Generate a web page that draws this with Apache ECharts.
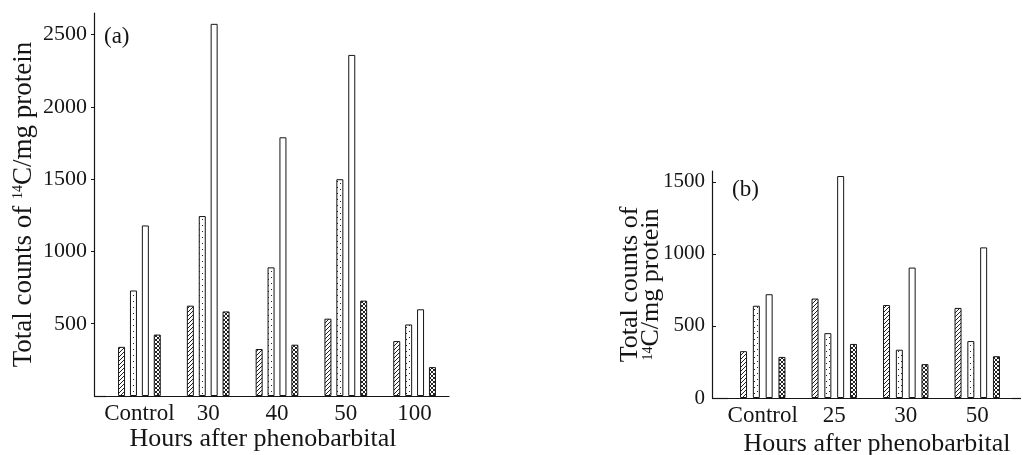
<!DOCTYPE html>
<html>
<head>
<meta charset="utf-8">
<script src="https://cdn.jsdelivr.net/npm/echarts@6/dist/echarts.min.js"></script>
<style>
  html, body { margin: 0; padding: 0; background: #fff; }
  #main { width: 1023px; height: 455px; }
</style>
</head>
<body>
<div id="main"></div>
<script>
// panel (a)
const categoriesA = ['Control', '30', '40', '50', '100']
const hatchedA = [340, 625, 325, 535, 380]
const dottedA = [730, 1245, 890, 1500, 495]
const openA = [1180, 2575, 1790, 2360, 600]
const crossA = [425, 585, 355, 660, 200]
const ticksA = [500, 1000, 1500, 2000, 2500]

// panel (b)
const categoriesB = ['Control', '25', '30', '50']
const hatchedB = [325, 690, 645, 625]
const dottedB = [640, 450, 335, 395]
const openB = [720, 1540, 905, 1045]
const crossB = [285, 375, 235, 290]
const ticksB = [0, 500, 1000, 1500]

const FONT = 'Liberation Serif'
const INK = '#151515'

// little canvas tiles for the printed fills
function pattern(kind) {
  const s = kind === 'dots' ? 6 : 4
  const c = document.createElement('canvas')
  c.width = c.height = s
  const g = c.getContext('2d')
  g.fillStyle = '#fff'
  g.fillRect(0, 0, s, s)
  g.strokeStyle = '#222'
  g.fillStyle = '#222'
  g.lineWidth = 1
  if (kind === 'hatch' || kind === 'cross') {
    g.beginPath()
    g.moveTo(0, s); g.lineTo(s, 0)
    g.moveTo(-1, 1); g.lineTo(1, -1)
    g.moveTo(s - 1, s + 1); g.lineTo(s + 1, s - 1)
    g.stroke()
  }
  if (kind === 'cross') {
    g.beginPath()
    g.moveTo(0, 0); g.lineTo(s, s)
    g.moveTo(s - 1, -1); g.lineTo(s + 1, 1)
    g.moveTo(-1, s - 1); g.lineTo(1, s + 1)
    g.stroke()
  }
  if (kind === 'dots') {
    g.fillRect(1, 1, 1, 1)
    g.fillRect(4, 3, 1, 1)
  }
  return { image: c, repeat: 'repeat' }
}

const fills = {
  hatch: pattern('hatch'),
  dots: pattern('dots'),
  open: '#fff',
  cross: pattern('cross')
}

function barSeries(idx, data, fill, gap) {
  return {
    type: 'bar',
    xAxisIndex: idx,
    yAxisIndex: idx,
    data: data,
    barWidth: 7,
    barGap: gap,
    silent: true,
    itemStyle: { color: fill, borderColor: INK, borderWidth: 1 }
  }
}

const sup = { fontFamily: FONT, fontSize: 14, color: INK, verticalAlign: 'top', lineHeight: 14 }

function xAxisOf(idx, cats, pad) {
  return {
    type: 'category',
    gridIndex: idx,
    data: cats,
    axisLine: { lineStyle: { color: INK, width: 1.2 } },
    axisTick: { show: false },
    axisLabel: { interval: 0, color: INK, fontFamily: FONT, fontSize: 23, margin: 6 },
    name: 'Hours after phenobarbital',
    nameLocation: 'middle',
    nameGap: idx === 0 ? 30 : 33,
    nameMoveOverlap: false,
    nameTextStyle: { color: INK, fontFamily: FONT, fontSize: 26, padding: pad }
  }
}

const plain = v => String(v)

const chart = echarts.init(document.getElementById('main'))
chart.setOption({
  animation: false,
  backgroundColor: '#fff',
  title: [
    { text: '(a)', left: 99, top: 20, textStyle: { fontFamily: FONT, fontSize: 23, fontWeight: 'normal', color: INK } },
    { text: '(b)', left: 727, top: 173, textStyle: { fontFamily: FONT, fontSize: 23, fontWeight: 'normal', color: INK } }
  ],
  grid: [
    { left: 105, top: 13, width: 344, height: 383, outerBoundsMode: 'none' },
    { left: 727, top: 171, width: 286, height: 227, outerBoundsMode: 'none' }
  ],
  xAxis: [
    xAxisOf(0, categoriesA, [0, 28, 0, 0]),
    xAxisOf(1, categoriesB, [0, 0, 0, 14])
  ],
  yAxis: [
    {
      type: 'value',
      gridIndex: 0,
      min: 0,
      max: 2650,
      offset: 11,
      splitLine: { show: false },
      axisLine: { show: true, lineStyle: { color: INK, width: 1.2 } },
      axisTick: { show: true, length: 3, customValues: ticksA, lineStyle: { color: INK } },
      axisLabel: { customValues: ticksA, formatter: plain, color: INK, fontFamily: FONT, fontSize: 22, margin: 7 },
      name: '{n|Total counts of }{s|14}{n|C/mg protein}',
      nameLocation: 'middle',
      nameRotate: 90,
      nameGap: 57,
      nameMoveOverlap: false,
      nameTextStyle: {
        rich: {
          n: { fontFamily: FONT, fontSize: 27, color: INK, lineHeight: 26 },
          s: sup
        }
      }
    },
    {
      type: 'value',
      gridIndex: 1,
      min: 0,
      max: 1575,
      offset: 15,
      splitLine: { show: false },
      axisLine: { show: true, lineStyle: { color: INK, width: 1.2 } },
      axisTick: { show: true, inside: true, length: 4, customValues: ticksB, lineStyle: { color: INK } },
      axisLabel: { customValues: ticksB, formatter: plain, color: INK, fontFamily: FONT, fontSize: 21, margin: 7 },
      name: '{n|Total counts of}\n{s|14}{n|C/mg protein}',
      nameLocation: 'middle',
      nameRotate: 90,
      nameGap: 50,
      nameMoveOverlap: false,
      nameTextStyle: {
        rich: {
          n: { fontFamily: FONT, fontSize: 26, color: INK, lineHeight: 21 },
          s: sup
        }
      }
    }
  ],
  series: [
    barSeries(0, hatchedA, fills.hatch, '70%'),
    barSeries(0, dottedA, fills.dots, '70%'),
    barSeries(0, openA, fills.open, '70%'),
    barSeries(0, crossA, fills.cross, '70%'),
    barSeries(1, hatchedB, fills.hatch, '83%'),
    barSeries(1, dottedB, fills.dots, '83%'),
    barSeries(1, openB, fills.open, '83%'),
    barSeries(1, crossB, fills.cross, '83%')
  ]
})

// the printed x axes run on to meet the y axes
const baseA = chart.convertToPixel({ gridIndex: 0 }, [0, 0])
const baseB = chart.convertToPixel({ gridIndex: 1 }, [0, 0])
const yA = Math.round(baseA[1]) + 0.5
const yB = Math.round(baseB[1]) + 0.5
const seg = (x1, x2, y) => ({ type: 'line', silent: true, shape: { x1: x1, y1: y, x2: x2, y2: y }, style: { stroke: INK, lineWidth: 1.2 } })
chart.setOption({
  graphic: [seg(94, 106, yA), seg(712, 728, yB), seg(1012, 1021, yB)]
})
</script>
</body>
</html>
